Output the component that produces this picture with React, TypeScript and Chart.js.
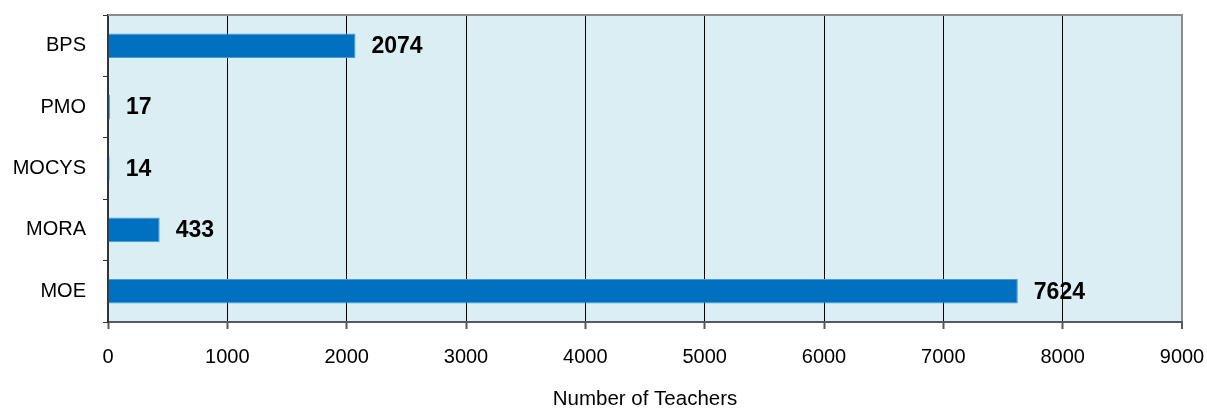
import React, { useEffect, useRef } from "react";
import { Chart, registerables } from "chart.js";

Chart.register(...registerables);

const categories = ["BPS", "PMO", "MOCYS", "MORA", "MOE"];
const teachers = [2074, 17, 14, 433, 7624];
const xTicks = [0, 1000, 2000, 3000, 4000, 5000, 6000, 7000, 8000, 9000];
const axisTitle = "Number of Teachers";

const FONT = "'Liberation Sans', Arial, sans-serif";

const framePlugin = {
  id: "frame",
  beforeDraw(chart: any) {
    const { ctx, chartArea: a } = chart;
    ctx.save();
    ctx.fillStyle = "#DBEEF3";
    ctx.fillRect(a.left, a.top, a.right - a.left, a.bottom - a.top);
    ctx.restore();
  },
  afterDraw(chart: any) {
    const { ctx, chartArea: a } = chart;
    ctx.save();
    ctx.strokeStyle = "#8C8C8C";
    ctx.lineWidth = 2;
    ctx.beginPath();
    ctx.moveTo(a.left, a.top);
    ctx.lineTo(a.right + 1, a.top);
    ctx.stroke();
    ctx.restore();
  },
};

const labelPlugin = {
  id: "valueLabels",
  afterDatasetsDraw(chart: any) {
    const { ctx } = chart;
    const meta = chart.getDatasetMeta(0);
    ctx.save();
    ctx.font = `bold 23px ${FONT}`;
    ctx.fillStyle = "#000";
    ctx.textAlign = "left";
    ctx.textBaseline = "middle";
    meta.data.forEach((bar: any, i: number) => {
      ctx.fillText(String(teachers[i]), bar.x + 16, bar.y + 1);
    });
    ctx.restore();
  },
};

export default function App() {
  const ref = useRef<HTMLCanvasElement>(null);
  useEffect(() => {
    if (!ref.current) return;
    const chart = new Chart(ref.current, {
      type: "bar",
      data: {
        labels: categories,
        datasets: [
          {
            data: teachers,
            backgroundColor: "#0070C0",
            borderColor: "#4A9AD4",
            borderWidth: 1,
            barPercentage: 0.8,
            categoryPercentage: 0.5,
          },
        ],
      },
      options: {
        indexAxis: "y",
        animation: false,
        responsive: false,
        maintainAspectRatio: false,
        layout: { padding: { top: 15, right: 25, left: 0, bottom: 0 } },
        plugins: { legend: { display: false }, tooltip: { enabled: false } },
        scales: {
          x: {
            type: "linear",
            min: 0,
            max: 9000,
            afterBuildTicks(scale: any) {
              scale.ticks = xTicks.map((v) => ({ value: v }));
            },
            afterFit(scale: any) {
              scale.height = 88;
              scale.paddingLeft = 0;
              scale.paddingRight = 0;
            },
            ticks: {
              color: "#000",
              font: { family: FONT, size: 20 },
              padding: 16,
              maxRotation: 0,
              callback: (v: any) => String(v),
            },
            grid: {
              color: (c: any) =>
                c.index === 0 ? "rgba(0,0,0,0)" : c.index === xTicks.length - 1 ? "#8C8C8C" : "#000",
              lineWidth: (c: any) => (c.index === xTicks.length - 1 ? 2 : 1),
              tickLength: 7,
              tickColor: "#595959",
              tickWidth: 2,
              drawTicks: true,
            },
            border: { display: true, color: "#595959", width: 2 },
            title: {
              display: true,
              text: axisTitle,
              color: "#000",
              font: { family: FONT, size: 20.5, lineHeight: 1 },
              padding: { top: 14, bottom: 0 },
            },
          },
          y: {
            type: "category",
            afterFit(scale: any) {
              scale.width = 108;
              scale.paddingTop = 0;
              scale.paddingBottom = 0;
            },
            ticks: {
              color: "#000",
              font: { family: FONT, size: 20 },
              padding: 17,
            },
            grid: {
              offset: true,
              drawOnChartArea: false,
              drawTicks: true,
              tickLength: 5,
              tickColor: "#333",
              tickWidth: 1,
            },
            border: { display: true, color: "#333", width: 2 },
          },
        },
      },
      plugins: [framePlugin, labelPlugin],
    });
    return () => chart.destroy();
  }, []);
  return (
    <div style={{ position: "fixed", left: 0, top: 0, width: 1207, height: 410, background: "#fff" }}>
      <canvas ref={ref} width={1207} height={410} style={{ width: 1207, height: 410, display: "block" }} />
    </div>
  );
}
